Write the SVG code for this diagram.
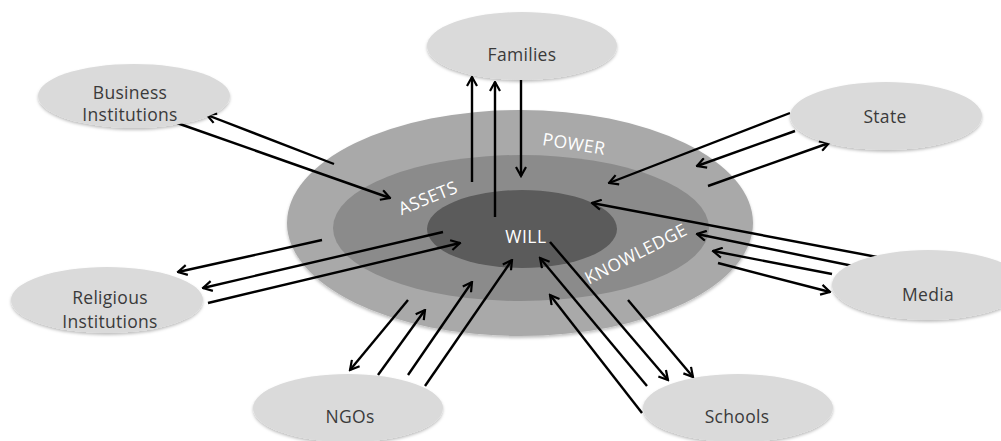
<svg xmlns="http://www.w3.org/2000/svg" width="1001" height="441" viewBox="0 0 1001 441">
<style>
.node{fill:#dadada;filter:url(#sh)}
.nt{font-family:"Open Sans","Liberation Sans",sans-serif;font-size:17.5px;fill:#3a3a3a;text-anchor:middle;letter-spacing:0.3px}
.rt{font-family:"Open Sans","Liberation Sans",sans-serif;font-size:17.5px;fill:#ffffff;text-anchor:middle;letter-spacing:0.5px}
.c line{stroke:#000;stroke-width:2.4;fill:none}
.a{marker-end:url(#ah)}
</style>
<defs>
<filter id="sh" x="-10%" y="-10%" width="120%" height="130%">
<feDropShadow dx="0" dy="2" stdDeviation="1.5" flood-color="#000" flood-opacity="0.25"/>
</filter>
<marker id="ah" viewBox="0 0 12 12" refX="10.5" refY="6" markerWidth="12" markerHeight="12" orient="auto" markerUnits="userSpaceOnUse">
<path d="M1.5,1 L10.5,6 L1.5,11" fill="none" stroke="#000" stroke-width="2.2"/>
</marker>
</defs>
<rect width="1001" height="441" fill="#ffffff"/>
<g id="core">
<ellipse cx="520" cy="223" rx="233" ry="113" fill="#a9a9a9" filter="url(#sh)"/>
<ellipse cx="521" cy="228" rx="188" ry="73" fill="#8b8b8b"/>
<ellipse cx="522" cy="229" rx="95" ry="39" fill="#5b5b5b"/>
<text class="rt" x="574" y="150" transform="rotate(9 574 144)">POWER</text>
<text class="rt" x="428" y="204" transform="rotate(-22 428 198)">ASSETS</text>
<text class="rt" x="526" y="243">WILL</text>
<text class="rt" x="636" y="260" transform="rotate(-27 636 254)">KNOWLEDGE</text>
</g>
<g id="connectors" class="c">
<line class="a" x1="472" y1="182" x2="472" y2="77"/>
<line class="a" x1="495" y1="217" x2="495" y2="82"/>
<line class="a" x1="521" y1="80" x2="521" y2="176"/>
<line class="a" x1="334" y1="164" x2="207" y2="115"/>
<line class="a" x1="177" y1="123" x2="390" y2="198"/>
<line class="a" x1="790" y1="113" x2="609" y2="183"/>
<line class="a" x1="795" y1="131" x2="697" y2="166"/>
<line class="a" x1="708" y1="186" x2="829" y2="143"/>
<line class="a" x1="877" y1="257" x2="592" y2="203"/>
<line class="a" x1="858" y1="267" x2="697" y2="234"/>
<line class="a" x1="832" y1="274" x2="713" y2="251"/>
<line class="a" x1="718" y1="263" x2="830" y2="292"/>
<line class="a" x1="322" y1="240" x2="178" y2="272"/>
<line class="a" x1="443" y1="232" x2="203" y2="288"/>
<line class="a" x1="208" y1="303" x2="460" y2="243"/>
<line class="a" x1="408" y1="300" x2="350" y2="370"/>
<line class="a" x1="378" y1="375" x2="425" y2="310"/>
<line class="a" x1="408" y1="375" x2="472" y2="282"/>
<line class="a" x1="425" y1="386" x2="512" y2="260"/>
<line class="a" x1="642" y1="413" x2="550" y2="295"/>
<line class="a" x1="647" y1="386" x2="540" y2="258"/>
<line class="a" x1="550" y1="242" x2="668" y2="380"/>
<line class="a" x1="628" y1="300" x2="693" y2="377"/>
</g>
<g id="families"><ellipse class="node" cx="522" cy="46" rx="95" ry="34"/><text class="nt" x="522" y="61">Families</text></g>
<g id="business"><ellipse class="node" cx="134" cy="96" rx="96" ry="32"/><text class="nt" x="130" y="99">Business</text><text class="nt" x="130" y="121">Institutions</text></g>
<g id="state"><ellipse class="node" cx="886" cy="116" rx="96" ry="34"/><text class="nt" x="885" y="123">State</text></g>
<g id="religious"><ellipse class="node" cx="107" cy="300" rx="96" ry="33"/><text class="nt" x="110" y="304">Religious</text><text class="nt" x="110" y="328">Institutions</text></g>
<g id="media"><ellipse class="node" cx="928" cy="285" rx="96" ry="35"/><text class="nt" x="928" y="301">Media</text></g>
<g id="ngos"><ellipse class="node" cx="348" cy="408" rx="95" ry="34"/><text class="nt" x="350" y="423">NGOs</text></g>
<g id="schools"><ellipse class="node" cx="738" cy="408" rx="95" ry="34"/><text class="nt" x="737" y="423">Schools</text></g>
</svg>
